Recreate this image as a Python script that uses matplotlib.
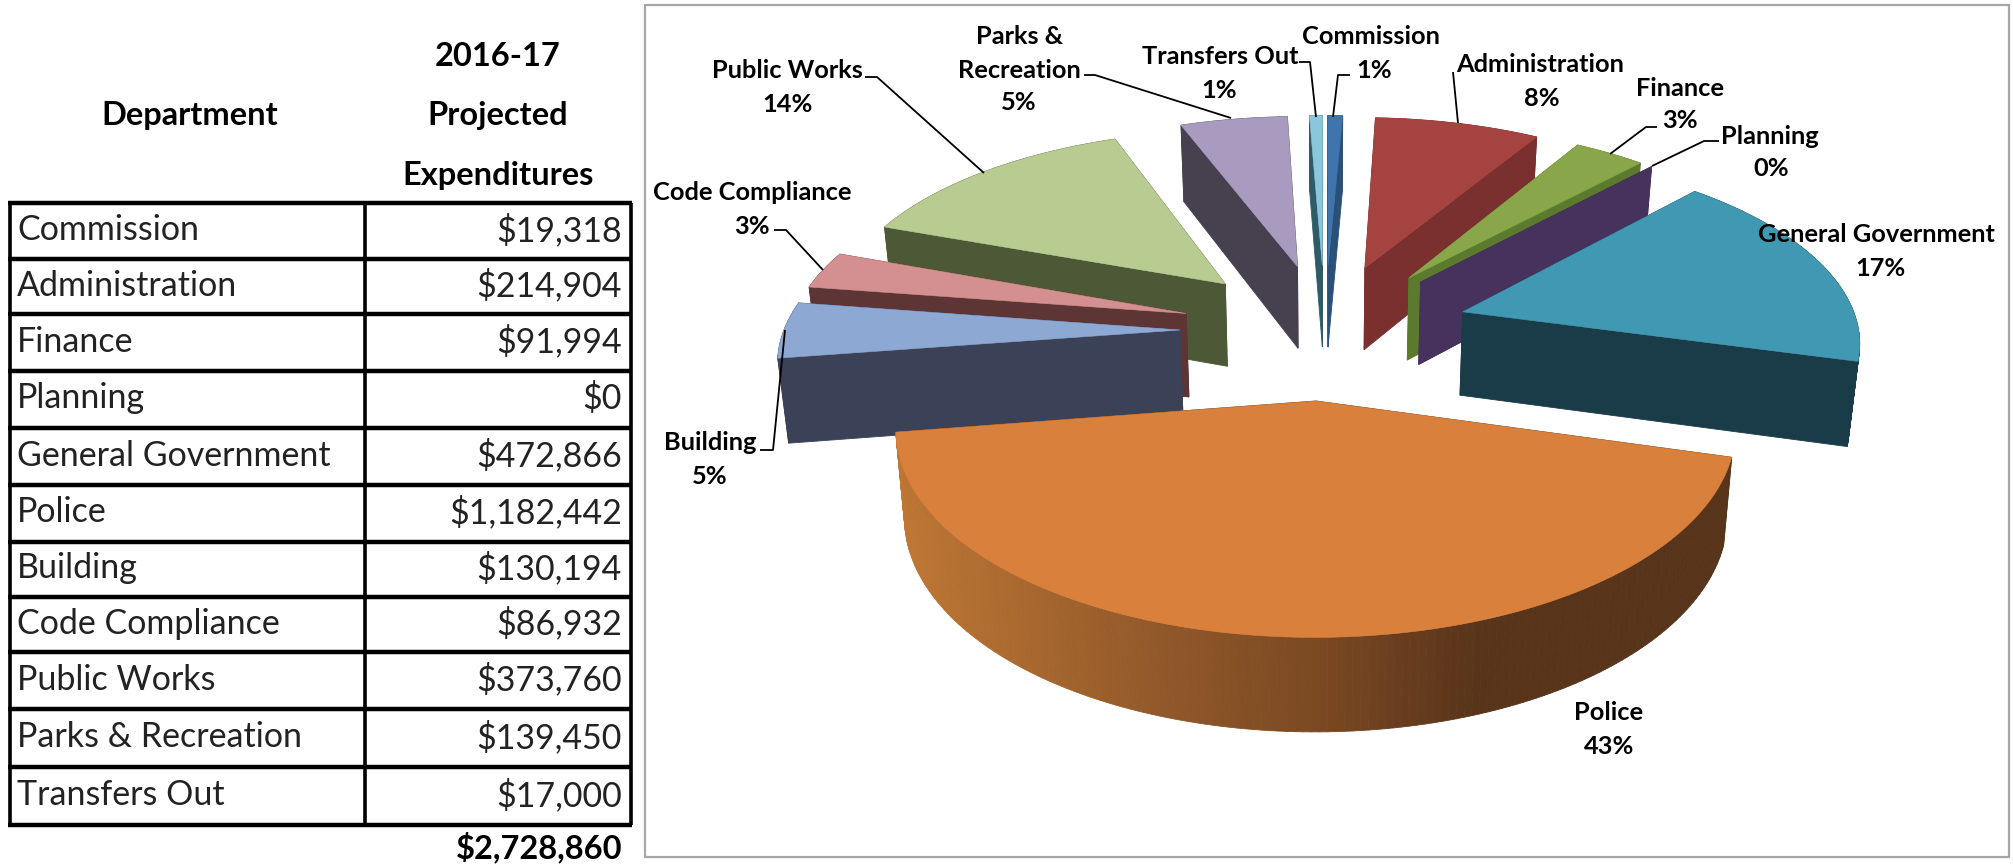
import numpy as np
import matplotlib
matplotlib.use("Agg")
import matplotlib.pyplot as plt
from matplotlib.patches import Polygon, Rectangle

plt.rcParams["font.family"] = ["Lato", "DejaVu Sans"]

departments = ["Commission", "Administration", "Finance", "Planning", "General Government",
               "Police", "Building", "Code Compliance", "Public Works", "Parks & Recreation",
               "Transfers Out"]
expenditures = [19318, 214904, 91994, 0, 472866, 1182442, 130194, 86932, 373760, 139450, 17000]
top_colors = ["#3f74ad", "#a54341", "#8aa64a", "#46325c", "#4198b2", "#d8803c",
              "#8da9d3", "#d49090", "#b8cb91", "#a89bbf", "#8bc6da"]
side_colors = ["#2a5078", "#7a302e", "#5c7a2d", "#46325c", "#1a3c48", "#57341a",
               "#3b4258", "#5d3534", "#4d5837", "#47404f", "#2f5a68"]

# pie geometry in pixels
CX, CY = 1325, 330
RADIUS, EXPLODE = 396, 145
TILT, PERSP, DEPTH = 0.467, 0.00033, 84
BOTTOM_SHRINK = 0.98

fig = plt.figure(figsize=(20.13, 8.67), dpi=100)
ax = fig.add_axes([0, 0, 1, 1])
ax.set_xlim(0, 2013)
ax.set_ylim(867, 0)
ax.axis("off")


def project(X, Y, lower=False):
    s = 1 / (1 - PERSP * Y)
    x = X * s
    y = TILT * Y * s
    if lower:
        x = x * BOTTOM_SHRINK
        y = y + DEPTH * s ** 0.6
    return CX + x, CY + y


def police_rim(x):
    stops = [904, 1161, 1322, 1483, 1730]
    r = np.interp(x, stops, [0xbd, 0x91, 0x7a, 0x57, 0x57])
    g = np.interp(x, stops, [0x76, 0x58, 0x48, 0x34, 0x34])
    b = np.interp(x, stops, [0x34, 0x2a, 0x22, 0x1a, 0x1a])
    return (r / 255, g / 255, b / 255)


total = sum(expenditures)
fractions = np.array(expenditures) / total
edges = np.concatenate([[0], np.cumsum(fractions)]) * 2 * np.pi

slice_order = [0, 10, 9, 1, 8, 2, 3, 7, 6, 4, 5]
for i in slice_order:
    a0, a1 = edges[i], edges[i + 1]
    mid = (a0 + a1) / 2
    ox, oy = EXPLODE * np.sin(mid), -EXPLODE * np.cos(mid)
    n = max(2, int(np.degrees(a1 - a0)) + 2)
    ang = np.linspace(a0, a1, n)
    px = ox + RADIUS * np.sin(ang)
    py = oy - RADIUS * np.cos(ang)

    faces = []
    for j in range(n - 1):
        if a1 == a0:
            break
        quad = [project(px[j], py[j]), project(px[j + 1], py[j + 1]),
                project(px[j + 1], py[j + 1], True), project(px[j], py[j], True)]
        col = police_rim((quad[0][0] + quad[1][0]) / 2) if departments[i] == "Police" else side_colors[i]
        faces.append(((py[j] + py[j + 1]) / 2, quad, col))
    for k in (0, -1):
        quad = [project(ox, oy), project(px[k], py[k]),
                project(px[k], py[k], True), project(ox, oy, True)]
        faces.append(((oy + py[k]) / 2, quad, side_colors[i]))
    for _, quad, col in sorted(faces, key=lambda f: f[0]):
        ax.add_patch(Polygon(quad, closed=True, facecolor=col, edgecolor=col, linewidth=0.6))

    top = [project(ox, oy)] + [project(a, b) for a, b in zip(px, py)]
    ax.add_patch(Polygon(top, closed=True, facecolor=top_colors[i], edgecolor=top_colors[i], linewidth=0.4))

# chart frame
ax.add_patch(Rectangle((645, 5), 1364, 852, fill=False, edgecolor="#a6a6a6", linewidth=1.6))

# data labels, leader lines
label_pos = {
    "Commission": (1371, 37, 1374, 70),
    "Administration": (1540, 65, 1542, 98),
    "Finance": (1680, 88, 1680, 121),
    "Planning": (1770, 137, 1771, 169),
    "General Government": (1876, 235, 1880, 268),
    "Police": (1609, 713, 1609, 747),
    "Building": (710, 443, 710, 476),
    "Code Compliance": (752, 192, 752, 226),
    "Public Works": (787, 71, 787, 105),
    "Transfers Out": (1220, 57, 1219, 91),
}
leaders = [
    [(865, 77), (877, 77), (984, 173)],
    [(1084, 75), (1095, 75), (1231, 118)],
    [(1299, 62), (1310, 62), (1316, 117)],
    [(774, 230), (786, 230), (823, 270)],
    [(760, 450), (773, 450), (785, 330)],
    [(1350, 75), (1338, 75), (1333, 117)],
    [(1453, 72), (1458, 123)],
    [(1657, 127), (1646, 127), (1610, 154)],
    [(1719, 141), (1704, 141), (1652, 166)],
]
for line in leaders:
    xs, ys = zip(*line)
    ax.plot(xs, ys, color="black", linewidth=1.3, solid_capstyle="butt")

LABEL_SIZE = 18.3
for name, frac in zip(departments, fractions):
    pct = f"{frac * 100:.0f}%"
    if name == "Parks & Recreation":
        ax.text(1019, 36, "Parks &", ha="center", va="center", fontsize=LABEL_SIZE, fontweight="bold")
        ax.text(1019, 70, "Recreation", ha="center", va="center", fontsize=LABEL_SIZE, fontweight="bold")
        ax.text(1019, 103, pct, ha="center", va="center", fontsize=LABEL_SIZE, fontweight="bold")
        continue
    x1, y1, x2, y2 = label_pos[name]
    ax.text(x1, y1, name, ha="center", va="center", fontsize=LABEL_SIZE, fontweight="bold")
    ax.text(x2, y2, pct, ha="center", va="center", fontsize=LABEL_SIZE, fontweight="bold")

# table
row_lines = [203, 259, 314, 371, 428, 485, 542, 597, 652, 709, 767, 825]
TABLE_L, TABLE_M, TABLE_R = 10, 365, 631
for y in row_lines:
    ax.plot([TABLE_L - 2, TABLE_R + 1], [y, y], color="black", linewidth=3.2, solid_capstyle="butt")
for x in (TABLE_L, TABLE_M, TABLE_R):
    ax.plot([x, x], [row_lines[0], row_lines[-1]], color="black", linewidth=2.6, solid_capstyle="butt")

TABLE_SIZE = 24.5
HEAD_SIZE = 23.5
for i, (name, val) in enumerate(zip(departments, expenditures)):
    yc = (row_lines[i] + row_lines[i + 1]) / 2 - 1
    ax.text(17, yc, name, ha="left", va="center", fontsize=TABLE_SIZE, color="#222222")
    ax.text(622, yc, f"${val:,.0f}", ha="right", va="center", fontsize=TABLE_SIZE, color="#222222")

ax.text(190, 116, "Department", ha="center", va="center", fontsize=HEAD_SIZE, fontweight="bold")
ax.text(498, 56, "2016-17", ha="center", va="center", fontsize=HEAD_SIZE, fontweight="bold")
ax.text(498, 116, "Projected", ha="center", va="center", fontsize=HEAD_SIZE, fontweight="bold")
ax.text(498, 175, "Expenditures", ha="center", va="center", fontsize=HEAD_SIZE, fontweight="bold")
ax.text(622, 847, f"${total:,.0f}", ha="right", va="center", fontsize=HEAD_SIZE, fontweight="bold")

fig.savefig("out.png", dpi=100, facecolor="white")
